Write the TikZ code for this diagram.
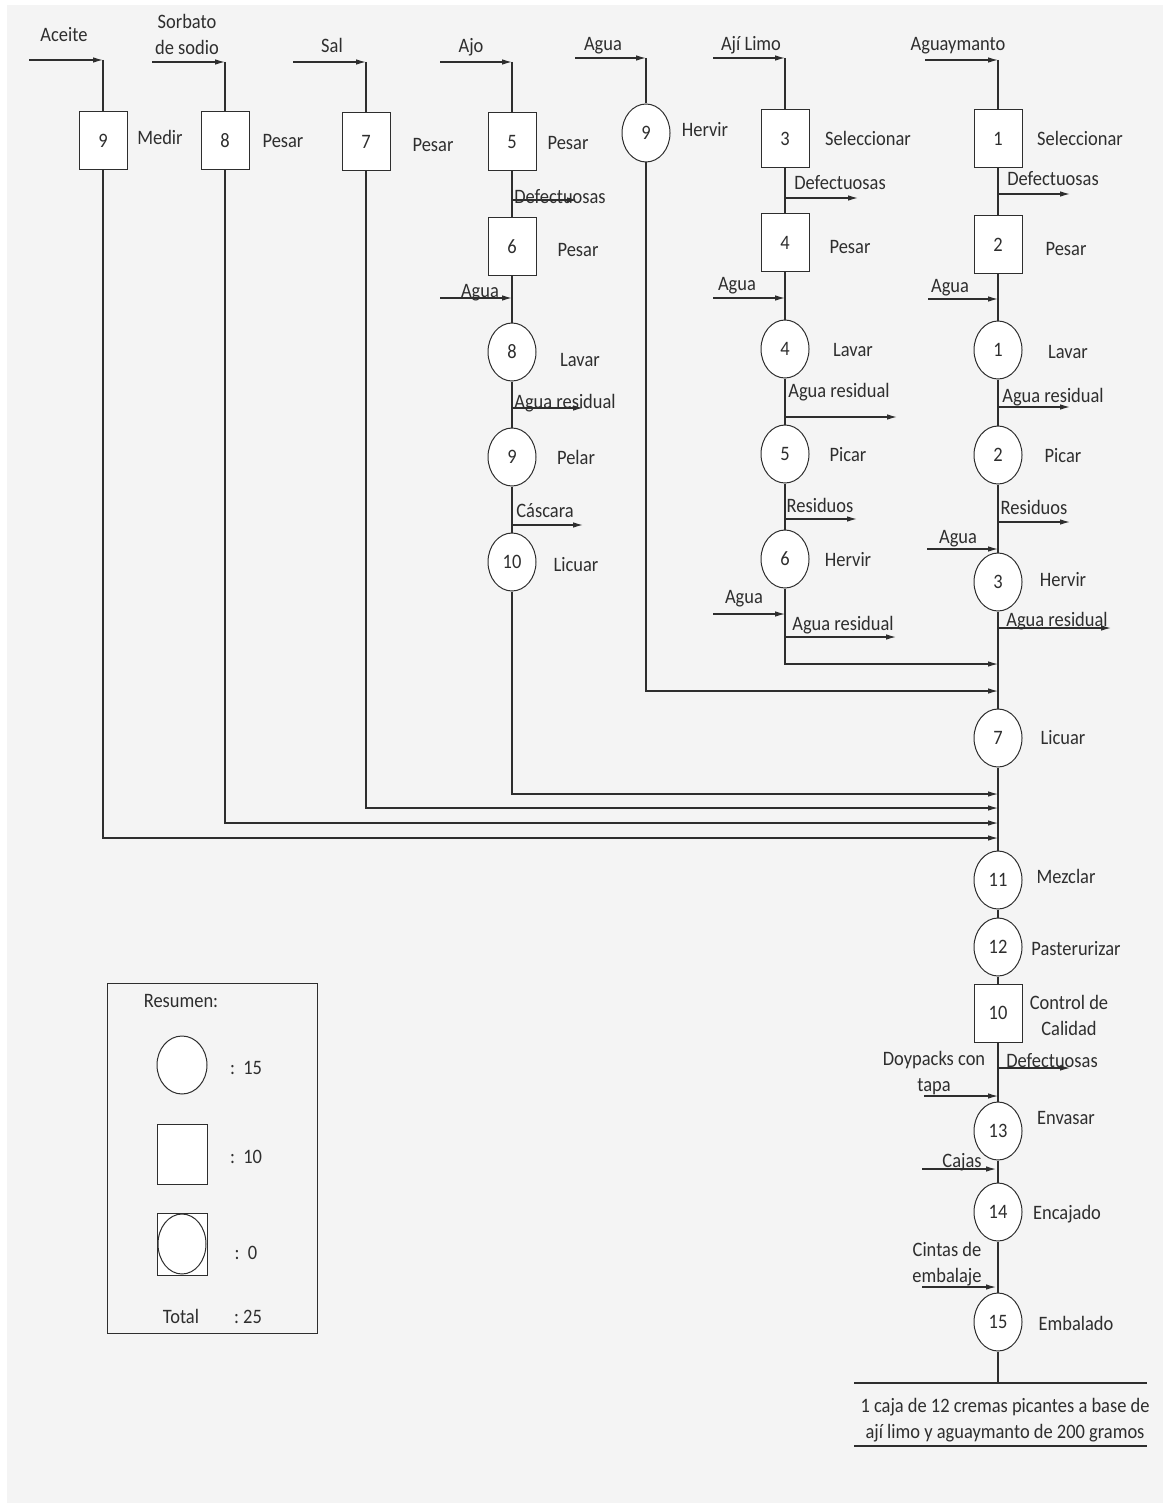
\documentclass[tikz,border=0pt]{standalone}
\usepackage{fontspec}
\setmainfont[FakeStretch=0.9]{Carlito}
\usetikzlibrary{arrows.meta,shapes.geometric}
\definecolor{bg}{HTML}{F4F4F4}
\definecolor{ink}{HTML}{2E2E2E}
\begin{document}
\begin{tikzpicture}[x=1pt,y=-1pt,
  font=\fontsize{20.5}{26}\selectfont,
  every node/.style={text=ink},
  ln/.style={draw=ink,line width=1.1pt},
  arr/.style={ln,-{Latex[length=10pt,width=5.5pt]}},
  opn/.style={ellipse,draw=ink,line width=1pt,fill=white,minimum width=48pt,minimum height=58pt,inner sep=0pt},
  ins/.style={rectangle,draw=ink,line width=1pt,fill=white,minimum width=48pt,minimum height=58pt,inner sep=0pt},
  lbl/.style={inner sep=0pt,text height=1.5ex,text depth=0.3ex,yshift=-3.5pt},
  lbltwo/.style={inner sep=0pt,align=center}]
\useasboundingbox (0,0) rectangle (1163,1503);
\fill[white] (0,0) rectangle (1163,1503);
\fill[bg] (7,5) rectangle (1163,1503);

% ---------- column A : Aceite ----------
\node[ins] (A9) at (103,141) {9};
\node[lbl] (tA9) at (160,138) {Medir};
\node[lbl] (tAin) at (64,35) {Aceite};
\coordinate (aIn) at (29,60);
\coordinate (aJ) at (103,60);
\coordinate (aM) at (998,838);
\draw[arr] (aIn) -- (aJ);
\draw[ln] (aJ) -- (A9.north);

% ---------- column B : Sorbato ----------
\node[ins] (B8) at (225,141) {8};
\node[lbl] (tB8) at (283,141) {Pesar};
\node[lbltwo] (tBin) at (187,34) {Sorbato\\de sodio};
\coordinate (bIn) at (152,62);
\coordinate (bJ) at (225,62);
\coordinate (bM) at (998,823);
\draw[arr] (bIn) -- (bJ);
\draw[ln] (bJ) -- (B8.north);

% ---------- column C : Sal ----------
\node[ins] (C7) at (366,142) {7};
\node[lbl] (tC7) at (433,145) {Pesar};
\node[lbl] (tCin) at (332,46) {Sal};
\coordinate (cIn) at (293,62);
\coordinate (cJ) at (366,62);
\coordinate (cM) at (998,808);
\draw[arr] (cIn) -- (cJ);
\draw[ln] (cJ) -- (C7.north);

% ---------- column D : Ajo ----------
\node[ins] (D5) at (512,142) {5};
\node[lbl] (tD5) at (568,143) {Pesar};
\node[ins] (D6) at (512,247) {6};
\node[lbl] (tD6) at (578,250) {Pesar};
\node[opn] (D8) at (512,352) {8};
\node[lbl] (tD8) at (580,360) {Lavar};
\node[opn] (D9) at (512,457) {9};
\node[lbl] (tD9) at (576,458) {Pelar};
\node[opn] (D10) at (512,562) {10};
\node[lbl] (tD10) at (576,565) {Licuar};
\node[lbl] (tDin) at (471,46) {Ajo};
\coordinate (dIn) at (440,62);
\coordinate (dJ) at (512,62);
\coordinate (dM) at (998,794);
\draw[arr] (dIn) -- (dJ);
\draw[ln] (dJ) -- (D5.north);
\draw[ln] (D5) -- (D6);
\draw[ln] (D6) -- (D8);
\draw[ln] (D8) -- (D9);
\draw[ln] (D9) -- (D10);
\node[lbl] (tDdef) at (560,197) {Defectuosas};
\coordinate (dDefA) at (512,200);
\coordinate (dDefB) at (577,200);
\draw[arr] (dDefA) -- (dDefB);
\node[lbl] (tDag) at (480,291) {Agua};
\coordinate (dAgA) at (440,298);
\coordinate (dAgB) at (512,298);
\draw[arr] (dAgA) -- (dAgB);
\node[lbl] (tDres) at (565,402) {Agua residual};
\coordinate (dResA) at (512,408);
\coordinate (dResB) at (583,408);
\draw[arr] (dResA) -- (dResB);
\node[lbl] (tDcas) at (545,511) {Cáscara};
\coordinate (dCasA) at (512,525);
\coordinate (dCasB) at (583,525);
\draw[arr] (dCasA) -- (dCasB);

% ---------- column E : Agua / Hervir ----------
\node[opn] (E9) at (646,133) {9};
\node[lbl] (tE9) at (705,130) {Hervir};
\node[lbl] (tEin) at (603,44) {Agua};
\coordinate (eIn) at (575,58);
\coordinate (eJ) at (646,58);
\coordinate (eM) at (998,691);
\draw[arr] (eIn) -- (eJ);
\draw[ln] (eJ) -- (E9.north);

% ---------- column F : Aji Limo ----------
\node[ins] (F3) at (785,139) {3};
\node[lbl] (tF3) at (868,139) {Seleccionar};
\node[ins] (F4) at (785,243) {4};
\node[lbl] (tF4) at (850,247) {Pesar};
\node[opn] (F4c) at (785,349) {4};
\node[lbl] (tF4c) at (853,350) {Lavar};
\node[opn] (F5c) at (785,454) {5};
\node[lbl] (tF5c) at (848,455) {Picar};
\node[opn] (F6c) at (785,559) {6};
\node[lbl] (tF6c) at (848,560) {Hervir};
\node[lbl] (tFin) at (751,44) {Ají Limo};
\coordinate (fIn) at (713,58);
\coordinate (fJ) at (785,58);
\coordinate (fM) at (998,664);
\draw[arr] (fIn) -- (fJ);
\draw[ln] (fJ) -- (F3.north);
\draw[ln] (F3) -- (F4);
\draw[ln] (F4) -- (F4c);
\draw[ln] (F4c) -- (F5c);
\draw[ln] (F5c) -- (F6c);
\node[lbl] (tFdef) at (840,183) {Defectuosas};
\coordinate (fDefA) at (785,198);
\coordinate (fDefB) at (858,198);
\draw[arr] (fDefA) -- (fDefB);
\node[lbl] (tFag1) at (737,284) {Agua};
\coordinate (fAg1A) at (713,298);
\coordinate (fAg1B) at (785,298);
\draw[arr] (fAg1A) -- (fAg1B);
\node[lbl] (tFres1) at (839,391) {Agua residual};
\coordinate (fRes1A) at (785,417);
\coordinate (fRes1B) at (897,417);
\draw[arr] (fRes1A) -- (fRes1B);
\node[lbl] (tFresd) at (820,506) {Residuos};
\coordinate (fResdA) at (785,519);
\coordinate (fResdB) at (857,519);
\draw[arr] (fResdA) -- (fResdB);
\node[lbl] (tFag2) at (744,597) {Agua};
\coordinate (fAg2A) at (713,614);
\coordinate (fAg2B) at (785,614);
\draw[arr] (fAg2A) -- (fAg2B);
\node[lbl] (tFres2) at (843,624) {Agua residual};
\coordinate (fRes2A) at (785,637);
\coordinate (fRes2B) at (896,637);
\draw[arr] (fRes2A) -- (fRes2B);

% ---------- column G : Aguaymanto / main line ----------
\node[ins] (G1) at (998,139) {1};
\node[lbl] (tG1) at (1080,139) {Seleccionar};
\node[ins] (G2) at (998,245) {2};
\node[lbl] (tG2) at (1066,249) {Pesar};
\node[opn] (G1c) at (998,350) {1};
\node[lbl] (tG1c) at (1068,352) {Lavar};
\node[opn] (G2c) at (998,455) {2};
\node[lbl] (tG2c) at (1063,456) {Picar};
\node[opn] (G3c) at (998,582) {3};
\node[lbl] (tG3c) at (1063,580) {Hervir};
\node[opn] (G7) at (998,738) {7};
\node[lbl] (tG7) at (1063,738) {Licuar};
\node[opn] (G11) at (998,880) {11};
\node[lbl] (tG11) at (1066,877) {Mezclar};
\node[opn] (G12) at (998,947) {12};
\node[lbl] (tG12) at (1076,949) {Pasterurizar};
\node[ins] (G10) at (998,1013) {10};
\node[lbltwo] (tG10) at (1069,1015) {Control de\\Calidad};
\node[opn] (G13) at (998,1131) {13};
\node[lbl] (tG13) at (1066,1118) {Envasar};
\node[opn] (G14) at (998,1212) {14};
\node[lbl] (tG14) at (1067,1213) {Encajado};
\node[opn] (G15) at (998,1322) {15};
\node[lbl] (tG15) at (1076,1324) {Embalado};
\node[lbl] (tGin) at (958,44) {Aguaymanto};
\coordinate (gIn) at (925,60);
\coordinate (gJ) at (998,60);
\draw[arr] (gIn) -- (gJ);
\draw[ln] (gJ) -- (G1.north);
\draw[ln] (G1) -- (G2);
\draw[ln] (G2) -- (G1c);
\draw[ln] (G1c) -- (G2c);
\draw[ln] (G2c) -- (G3c);
\draw[ln] (G3c) -- (G7);
\draw[ln] (G7) -- (G11);
\draw[ln] (G11) -- (G12);
\draw[ln] (G12) -- (G10);
\draw[ln] (G10) -- (G13);
\draw[ln] (G13) -- (G14);
\draw[ln] (G14) -- (G15);
\node[lbl] (tGdef1) at (1053,179) {Defectuosas};
\coordinate (gDef1A) at (998,194);
\coordinate (gDef1B) at (1070,194);
\draw[arr] (gDef1A) -- (gDef1B);
\node[lbl] (tGag1) at (950,286) {Agua};
\coordinate (gAg1A) at (928,299);
\coordinate (gAg1B) at (998,299);
\draw[arr] (gAg1A) -- (gAg1B);
\node[lbl] (tGres1) at (1053,396) {Agua residual};
\coordinate (gRes1A) at (998,407);
\coordinate (gRes1B) at (1070,407);
\draw[arr] (gRes1A) -- (gRes1B);
\node[lbl] (tGresd) at (1034,508) {Residuos};
\coordinate (gResdA) at (998,522);
\coordinate (gResdB) at (1070,522);
\draw[arr] (gResdA) -- (gResdB);
\node[lbl] (tGag2) at (958,537) {Agua};
\coordinate (gAg2A) at (927,549);
\coordinate (gAg2B) at (998,549);
\draw[arr] (gAg2A) -- (gAg2B);
\node[lbl] (tGres2) at (1057,620) {Agua residual};
\coordinate (gRes2A) at (998,628);
\coordinate (gRes2B) at (1111,628);
\draw[arr] (gRes2A) -- (gRes2B);
\node[lbl] (tGdef2) at (1052,1061) {Defectuosas};
\coordinate (gDef2A) at (998,1068);
\coordinate (gDef2B) at (1070,1068);
\draw[arr] (gDef2A) -- (gDef2B);
\node[lbltwo] (tGdoy) at (934,1073) {Doypacks con\\tapa};
\coordinate (gDoyA) at (924,1096);
\coordinate (gDoyB) at (998,1096);
\draw[arr] (gDoyA) -- (gDoyB);
\node[lbl] (tGcaj) at (962,1161) {Cajas};
\coordinate (gCajA) at (922,1169);
\coordinate (gCajB) at (996,1169);
\draw[arr] (gCajA) -- (gCajB);
\node[lbltwo] (tGcin) at (947,1264) {Cintas de\\embalaje};
\coordinate (gCinA) at (922,1287);
\coordinate (gCinB) at (996,1287);
\draw[arr] (gCinA) -- (gCinB);

% ---------- convergence to main line ----------
\draw[arr] (A9.south) |- (aM);
\draw[arr] (B8.south) |- (bM);
\draw[arr] (C7.south) |- (cM);
\draw[arr] (D10.south) |- (dM);
\draw[arr] (E9.south) |- (eM);
\draw[arr] (F6c.south) |- (fM);

% ---------- final product ----------
\coordinate (pEnd) at (998,1383);
\coordinate (pL) at (854,1383);
\coordinate (pR) at (1147,1383);
\coordinate (uL) at (854,1446);
\coordinate (uR) at (1147,1446);
\draw[ln] (G15) -- (pEnd);
\draw[ln] (pL) -- (pR);
\node[lbltwo] (tProd) at (1005,1420) {1 caja de 12 cremas picantes a base de\\ají limo y aguaymanto de 200 gramos};
\draw[ln,line width=1.6pt] (uL) -- (uR);

% ---------- legend ----------
\node[draw=ink,line width=1pt,minimum width=210pt,minimum height=350pt,inner sep=0pt] (leg) at (212,1158) {};
\node[lbl] (tRes) at (181,1001) {Resumen:};
\node[opn,minimum width=50pt] (lgC) at (182,1065) {};
\node[lbl] (tlgC) at (246,1068) {:\ \ 15};
\node[ins,minimum width=50pt,minimum height=60pt] (lgS) at (182,1154) {};
\node[lbl] (tlgS) at (246,1157) {:\ \ 10};
\node[ins,minimum width=50pt,minimum height=62pt] (lgB) at (182,1244) {};
\node[opn,minimum width=48pt,minimum height=60pt] (lgBc) at (182,1244) {};
\node[lbl] (tlgB) at (246,1253) {:\ \ 0};
\node[lbl] (tTot) at (181,1317) {Total};
\node[lbl] (tTotv) at (248,1317) {:\ 25};
\end{tikzpicture}
\end{document}
